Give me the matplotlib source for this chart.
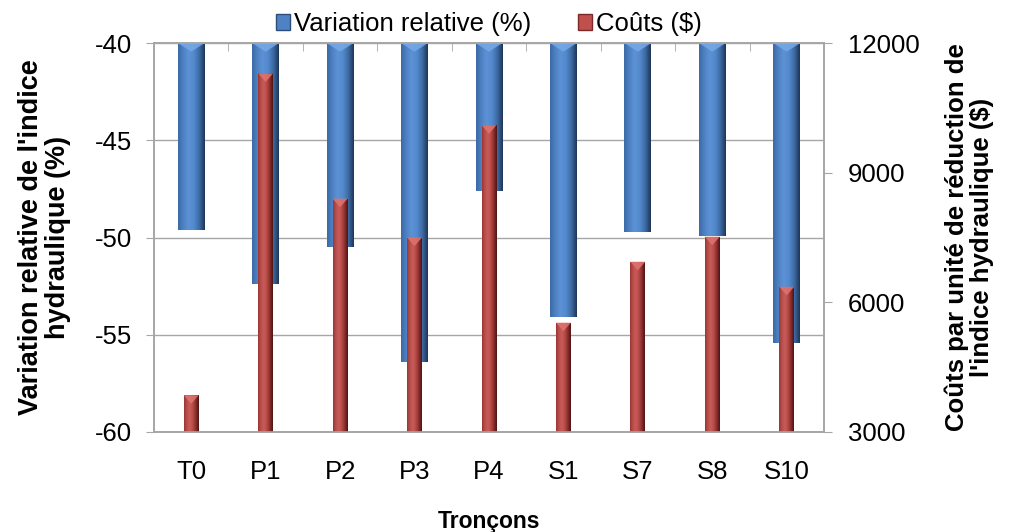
import numpy as np
import matplotlib
matplotlib.use("Agg")
import matplotlib.pyplot as plt
from matplotlib.colors import LinearSegmentedColormap
from matplotlib.patches import Patch, Polygon

plt.rcParams["font.family"] = ["Liberation Sans", "DejaVu Sans"]
plt.rcParams["axes.unicode_minus"] = False

troncons = ["T0", "P1", "P2", "P3", "P4", "S1", "S7", "S8", "S10"]
variation = [-49.6, -52.4, -50.5, -56.4, -47.6, -54.1, -49.7, -49.9, -55.4]
couts = [3850, 11300, 8400, 7500, 10100, 5530, 6940, 7520, 6360]

BLUE_W = 0.36
RED_W = 0.20
GRID = "#a6a6a6"

blue_cmap = LinearSegmentedColormap.from_list(
    "blue_cyl", ["#3b6aa6", "#4f82c4", "#5d93d6", "#5289cc", "#3d6aa3", "#1f3656"])
red_cmap = LinearSegmentedColormap.from_list(
    "red_cyl", ["#9c3633", "#b8504d", "#c95c58", "#b44a47", "#8a2e2c", "#4a1514"])


def shade_bars(ax, bars, cmap, tip_color):
    """Fill each bar with a horizontal gradient and add a bevel tip on its cap."""
    grad = np.linspace(0, 1, 64).reshape(1, -1)
    y0, y1 = ax.get_ylim()
    tip_h = (y1 - y0) * 0.022
    for rect in bars:
        x = rect.get_x()
        w = rect.get_width()
        yb = rect.get_y()
        yt = yb + rect.get_height()
        lo, hi = min(yb, yt), max(yb, yt)
        im = ax.imshow(grad, cmap=cmap, aspect="auto", extent=(x, x + w, lo, hi),
                       zorder=rect.get_zorder(), interpolation="bilinear")
        im.set_clip_path(rect)
        rect.set_facecolor("none")
        tri = Polygon([(x, hi), (x + w, hi), (x + w / 2, hi - tip_h)],
                      closed=True, facecolor=tip_color, edgecolor="none",
                      zorder=rect.get_zorder() + 0.1, alpha=0.85)
        ax.add_patch(tri)


fig = plt.figure(figsize=(10.11, 5.32), dpi=100)
ax = fig.add_axes([0.1523, 0.188, 0.6627, 0.731])
ax2 = ax.twinx()

x = np.arange(len(troncons))

# left axis: relative variation, bars hang down from -40
ax.set_ylim(-60, -40)
ax.set_yticks([-60, -55, -50, -45, -40])
ax.yaxis.grid(True, color=GRID, linewidth=1.0)
ax.set_axisbelow(True)
blue_bars = ax.bar(x, np.array(variation) + 40, bottom=-40, width=BLUE_W,
                   edgecolor="none", zorder=2)
ax.set_xlim(-0.5, len(troncons) - 0.5)
shade_bars(ax, blue_bars, blue_cmap, "#78a8e6")

# right axis: costs, bars rise from 3000
ax2.set_ylim(3000, 12000)
ax2.set_yticks([3000, 6000, 9000, 12000])
red_bars = ax2.bar(x, np.array(couts) - 3000, bottom=3000, width=RED_W,
                   edgecolor="none", zorder=2)
ax2.set_xlim(-0.5, len(troncons) - 0.5)
shade_bars(ax2, red_bars, red_cmap, "#e07470")

# spines and ticks
for a in (ax, ax2):
    for s in a.spines.values():
        s.set_color(GRID)
        s.set_linewidth(1.2)
ax.tick_params(axis="y", which="major", direction="out", length=6, color=GRID,
               labelsize=18.5, pad=10)
ax2.tick_params(axis="y", which="major", direction="out", length=6, color=GRID,
                labelsize=18.5, pad=11)
ax.set_xticks(x)
ax.set_xticklabels(troncons)
ax.tick_params(axis="x", which="major", length=0, labelsize=18.5, pad=20)
ax.set_xticks(np.arange(0.5, len(troncons) - 0.5, 1.0), minor=True)
ax.tick_params(axis="x", which="minor", bottom=False, top=True, direction="in",
               length=6, color=GRID)

ax.set_ylabel("Variation relative de l'indice\nhydraulique (%)", fontsize=19.5,
              fontweight="bold", labelpad=17, linespacing=1.05)
ax2.set_ylabel("Coûts par unité de réduction de\nl'indice hydraulique ($)", fontsize=18.5,
               fontweight="bold", labelpad=18, linespacing=1.05, rotation=90)
ax.set_xlabel("Tronçons", fontsize=16.5, fontweight="bold", labelpad=19)

handles = [Patch(facecolor="#4f82c4", edgecolor="#2c4d7a"),
           Patch(facecolor="#c0504d", edgecolor="#7a2a28")]
ax.legend(handles, ["Variation relative (%)", "Coûts ($)"], loc="lower center",
          bbox_to_anchor=(0.5, 1.018), ncol=2, frameon=False, fontsize=18.5,
          handlelength=0.55, handleheight=0.55, handletextpad=0.15, columnspacing=1.8,
          borderaxespad=0, borderpad=0)

fig.savefig("out.png", dpi=100, facecolor="white")
